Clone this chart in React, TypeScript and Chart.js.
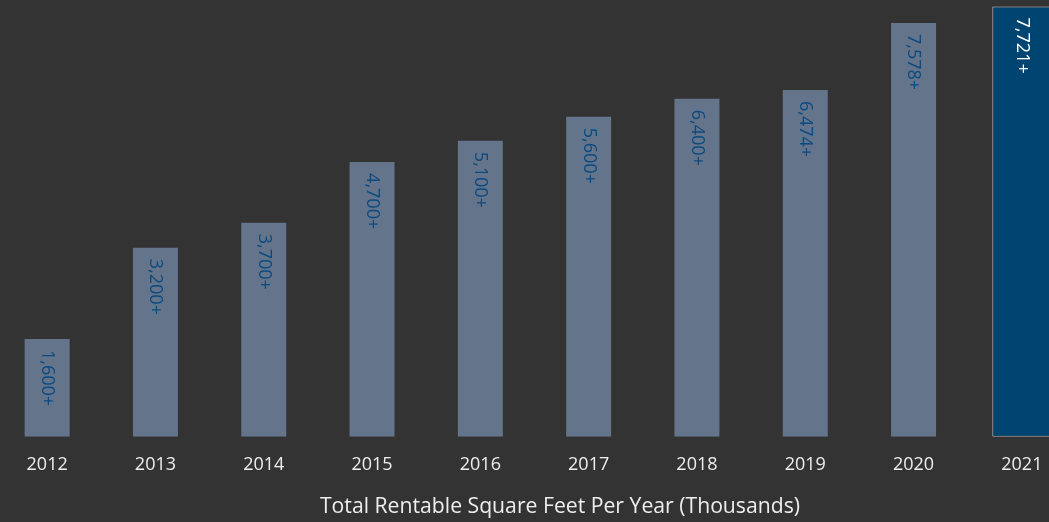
import React, { useEffect, useRef } from "react";
import { Chart, registerables } from "chart.js";

Chart.register(...registerables);

const categories = ["2012", "2013", "2014", "2015", "2016", "2017", "2018", "2019", "2020", "2021"];
// bar heights (thousands of sq ft) as drawn
const pastValues = [1790, 3460, 3920, 5030, 5420, 5860, 6190, 6350, 7580, null];
const currentValues = [null, null, null, null, null, null, null, null, null, 7880];
const valueLabels = ["1,600+", "3,200+", "3,700+", "4,700+", "5,100+", "5,600+", "6,400+", "6,474+", "7,578+", "7,721+"];
const axisTitle = "Total Rentable Square Feet Per Year (Thousands)";

const FONT = "'Open Sans', sans-serif";

const barLabelPlugin = {
  id: "barLabels",
  afterDatasetsDraw(chart: any) {
    const ctx = chart.ctx;
    chart.data.datasets.forEach((ds: any, di: number) => {
      const meta = chart.getDatasetMeta(di);
      meta.data.forEach((el: any, i: number) => {
        if (ds.data[i] == null) return;
        ctx.save();
        ctx.translate(el.x, el.y + 11);
        ctx.rotate(Math.PI / 2);
        ctx.font = `18px ${FONT}`;
        ctx.fillStyle = ds.labelColor;
        ctx.textAlign = "left";
        ctx.textBaseline = "middle";
        ctx.fillText(valueLabels[i], 0, 0);
        ctx.restore();
      });
    });
  },
};

export default function App() {
  const ref = useRef<HTMLCanvasElement>(null);
  useEffect(() => {
    document.body.style.margin = "0";
    document.body.style.background = "#333333";
    document.body.style.overflow = "hidden";
    const chart = new Chart(ref.current!, {
      type: "bar",
      data: {
        labels: categories,
        datasets: [
          {
            data: pastValues as any,
            backgroundColor: "#64748b",
            borderWidth: 0,
            grouped: false,
            categoryPercentage: 1,
            barPercentage: 0.4156,
            labelColor: "#0b4a80",
          } as any,
          {
            data: currentValues as any,
            backgroundColor: "#004471",
            borderColor: "#d0d0d0",
            borderWidth: 1,
            borderSkipped: false,
            grouped: false,
            categoryPercentage: 1,
            barPercentage: 0.545,
            labelColor: "#ffffff",
          } as any,
        ],
      },
      options: {
        animation: false,
        responsive: true,
        maintainAspectRatio: false,
        layout: { padding: { top: 0, left: 0, right: 0, bottom: 29.7 } },
        plugins: { legend: { display: false }, tooltip: { enabled: false } },
        scales: {
          x: {
            grid: { display: false, drawTicks: false },
            border: { display: false },
            ticks: { color: "#eeeeee", font: { family: FONT, size: 18 }, padding: 17 },
          },
          y: { display: false, min: 0, max: 8000 },
        },
      },
      plugins: [barLabelPlugin],
    });
    return () => chart.destroy();
  }, []);
  return (
    <div style={{ position: "fixed", inset: 0, background: "#333333", overflow: "hidden" }}>
      <div style={{ position: "absolute", left: -7, top: 0, width: 1083, height: 522 }}>
        <canvas ref={ref} />
      </div>
      <div
        style={{
          position: "absolute",
          left: 260,
          width: 600,
          top: 492,
          lineHeight: "25px",
          fontSize: 21.2,
          fontFamily: FONT,
          color: "#eeeeee",
          textAlign: "center",
          whiteSpace: "nowrap",
        }}
      >
        {axisTitle}
      </div>
    </div>
  );
}
